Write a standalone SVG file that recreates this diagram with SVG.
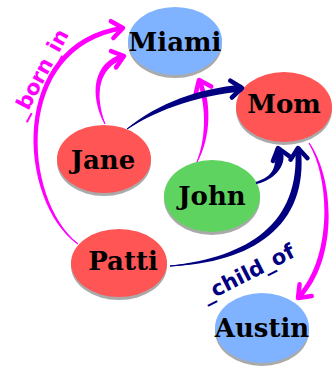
<svg xmlns="http://www.w3.org/2000/svg" width="333" height="370" viewBox="0 0 333 370">
<style>
.shadow{fill:#aaaaaa}
.blue{fill:#80b3ff}
.red{fill:#ff5555}
.green{fill:#5fd35f}
.lbl{font-family:"DejaVu Serif","Liberation Serif",serif;font-weight:bold;font-size:26px;fill:#000;text-anchor:middle}
.mag{fill:#ff00ff}
.nav{fill:#000080}
.cmag{fill:none;stroke:#ff00ff;stroke-width:1;marker-end:url(#amag)}
.cnav{fill:none;stroke:#000080;stroke-width:1;marker-end:url(#anav)}
.elbl{font-family:"DejaVu Sans","Liberation Sans",sans-serif;font-weight:bold;font-size:21px;text-anchor:middle}
</style>
<defs>
<marker id="amag" markerUnits="userSpaceOnUse" orient="auto" refX="0" refY="0" viewBox="-16 -13 20 26" markerWidth="20" markerHeight="26">
<path d="M-11,-8.5 L0,0 L-11,8.5" fill="none" stroke="#ff00ff" stroke-width="4.5" stroke-linecap="round" stroke-linejoin="round"/>
</marker>
<marker id="anav" markerUnits="userSpaceOnUse" orient="auto" refX="0" refY="0" viewBox="-16 -13 20 26" markerWidth="20" markerHeight="26">
<path d="M-11,-8.5 L0,0 L-11,8.5" fill="none" stroke="#000080" stroke-width="4.5" stroke-linecap="round" stroke-linejoin="round"/>
</marker>
</defs>
<g id="Miami"><ellipse class="shadow" cx="175" cy="44" rx="47" ry="34"/><ellipse class="blue" cx="175" cy="41" rx="47" ry="34"/><text class="lbl" x="175" y="51">Miami</text></g>
<g id="Mom"><ellipse class="shadow" cx="284" cy="110" rx="48" ry="35"/><ellipse class="red" cx="284" cy="107" rx="48" ry="35"/><text class="lbl" x="284" y="113">Mom</text></g>
<g id="Jane"><ellipse class="shadow" cx="104" cy="162" rx="47" ry="34"/><ellipse class="red" cx="104" cy="159" rx="47" ry="34"/><text class="lbl" x="103" y="169">Jane</text></g>
<g id="John"><ellipse class="shadow" cx="212" cy="199" rx="48" ry="36"/><ellipse class="green" cx="212" cy="196" rx="48" ry="36"/><text class="lbl" x="212" y="205">John</text></g>
<g id="Patti"><ellipse class="shadow" cx="119" cy="266" rx="48" ry="34"/><ellipse class="red" cx="119" cy="263" rx="48" ry="34"/><text class="lbl" x="123" y="270">Patti</text></g>
<g id="Austin"><ellipse class="shadow" cx="262" cy="331" rx="47" ry="35"/><ellipse class="blue" cx="262" cy="328" rx="47" ry="35"/><text class="lbl" x="262" y="337">Austin</text></g>
<g id="connectors">
<path class="cmag" d="M78,244 C20,200 10,45 123,28"/>
<path class="mag" d="M78.3,243.6 C22.42,198.7 12.96,47.39 123.33,30.18 L122.67,25.82 C7.04,42.61 17.58,201.3 77.7,244.4 Z"/>
<path class="cmag" d="M105,124 C92,95 95,65 124,56"/>
<path class="mag" d="M105.37,123.84 C94.56,94.59 97.97,67.43 124.77,58.48 L123.23,53.52 C92.03,62.57 89.45,95.42 104.63,124.16 Z"/>
<path class="cmag" d="M197,162 C210,135 208,100 199,80"/>
<path class="mag" d="M197.36,162.17 C212.33,135.46 210.77,99.32 201.01,79.1 L196.99,80.9 C205.23,100.68 207.67,134.54 196.64,161.83 Z"/>
<path class="cnav" d="M127,129 C160,105 200,92 242,88"/>
<path class="nav" d="M127.24,129.32 C161.2,107.35 200.74,95.55 242.3,91.19 L241.7,84.81 C199.26,88.45 158.8,102.65 126.76,128.68 Z"/>
<path class="cnav" d="M256,183 C275,178 283,165 278,148"/>
<path class="nav" d="M256.25,183.97 C275.51,179.93 289.71,163.03 280.88,147.15 L275.12,148.85 C276.29,166.97 274.49,176.07 255.75,182.03 Z"/>
<path class="cnav" d="M170,266 C250,260 305,225 298,148"/>
<path class="nav" d="M170.03,266.4 C250.98,262.93 309.41,227.17 300.79,147.75 L295.21,148.25 C300.59,222.83 249.02,257.07 169.97,265.6 Z"/>
<path class="cmag" d="M309,143 C333,180 335,260 298,298"/>
<path class="mag" d="M308.66,143.22 C330.82,180.68 331.97,258.81 296.42,296.46 L299.58,299.54 C338.03,261.19 335.18,179.32 309.34,142.78 Z"/>
<text class="elbl" fill="#ff00ff" transform="translate(40,74) rotate(-62)" x="0" y="7">_born_in</text>
<text class="elbl" fill="#000080" transform="translate(248,273) rotate(-27)" x="0" y="7">_child_of</text>
</g>
</svg>
